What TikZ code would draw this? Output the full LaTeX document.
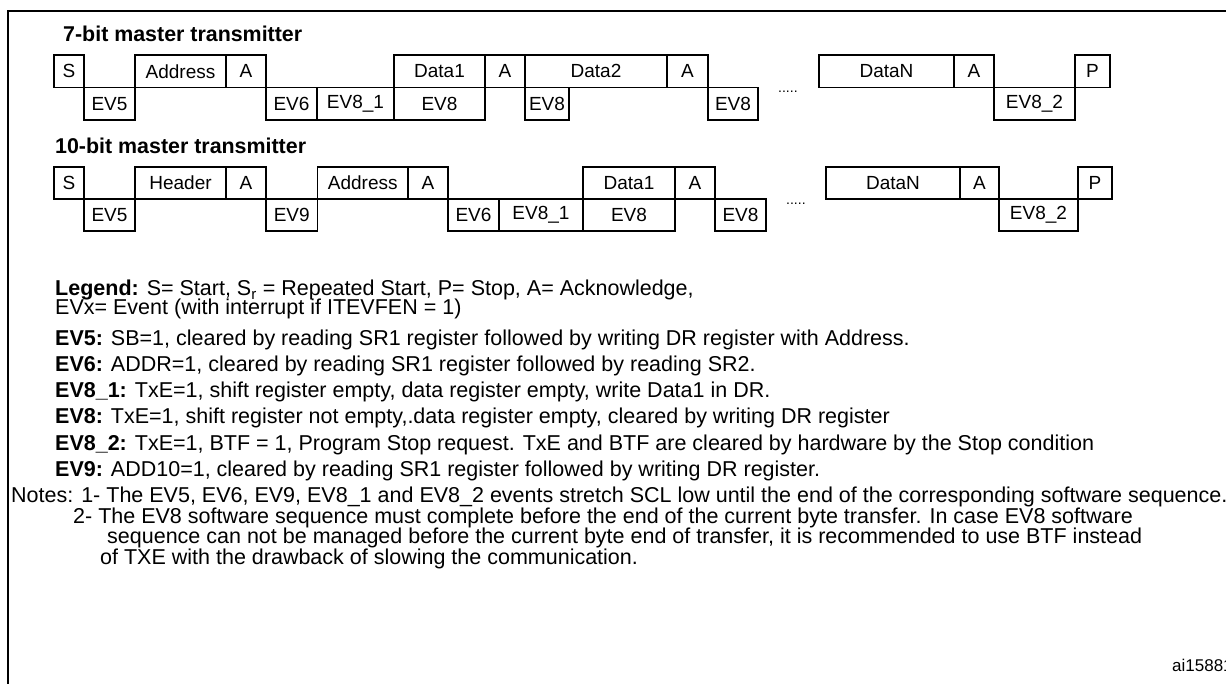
\documentclass[tikz,border=0pt]{standalone}
\usepackage{fontspec}
\setmainfont{Liberation Sans}
\newcommand\cell[6]{%
  \pgfmathsetmacro\cw{#3-#2}\pgfmathsetmacro\ch{#5-#4}%
  \node[cellbox, minimum width=\cw pt, minimum height=\ch pt, anchor=north west] (#1) at (#2,#4) {#6};}
\begin{document}
\begin{tikzpicture}[x=1pt,y=-1pt,
  cellbox/.style={draw, line width=1.7pt, inner sep=0pt, outer sep=0pt, font=\fontsize{19}{22}\selectfont},
  head/.style={anchor=base west, inner sep=0pt, font=\fontsize{21.4}{25}\selectfont\bfseries},
  txt/.style={anchor=base west, inner sep=0pt, font=\fontsize{21.5}{25}\selectfont},
  dots/.style={anchor=base west, inner sep=0pt, font=\fontsize{14}{16}\selectfont}]
\useasboundingbox (0,0) rectangle (1226,684);
% frame
\draw[line width=2.5pt] (8,700) -- (8,11) -- (1240,11);
% headings
\node[head] (h7) at (63,42) {7-bit master transmitter};
\node[head] (h10) at (55,154) {10-bit master transmitter};
% row 1
\cell{a1}{54}{84}{55}{87.5}{S}
\cell{a2}{84}{135}{87.5}{120}{EV5}
\cell{a3}{135}{226}{55}{87.5}{Address}
\cell{a4}{226}{266}{55}{87.5}{A}
\cell{a5}{266}{317}{87.5}{120}{EV6}
\cell{a6}{317}{394}{87.5}{120}{EV8\_1}
\cell{a7}{394}{485}{55}{87.5}{Data1}
\cell{a8}{394}{485}{87.5}{120}{EV8}
\cell{a9}{485}{525}{55}{87.5}{A}
\cell{a10}{525}{569}{87.5}{120}{EV8}
\cell{a11}{525}{667}{55}{87.5}{Data2}
\cell{a12}{667}{708}{55}{87.5}{A}
\cell{a13}{708}{758}{87.5}{120}{EV8}
\node[dots] (d1) at (778,93) {.....};
\cell{a14}{819}{954}{55}{87.5}{DataN}
\cell{a15}{954}{994}{55}{87.5}{A}
\cell{a16}{994}{1075}{87.5}{120}{EV8\_2}
\cell{a17}{1075}{1110}{55}{87.5}{P}
% row 2
\cell{b1}{54}{84}{167}{199}{S}
\cell{b2}{84}{135}{199}{231}{EV5}
\cell{b3}{135}{226}{167}{199}{Header}
\cell{b4}{226}{266}{167}{199}{A}
\cell{b5}{266}{317.5}{199}{231}{EV9}
\cell{b6}{317.5}{408}{167}{199}{Address}
\cell{b7}{408}{448}{167}{199}{A}
\cell{b8}{448}{499}{199}{231}{EV6}
\cell{b9}{499}{583}{199}{231}{EV8\_1}
\cell{b10}{583}{675}{167}{199}{Data1}
\cell{b11}{583}{675}{199}{231}{EV8}
\cell{b12}{675}{715}{167}{199}{A}
\cell{b13}{715}{766}{199}{231}{EV8}
\node[dots] (d2) at (786,205) {.....};
\cell{b14}{826}{960}{167}{199}{DataN}
\cell{b15}{960}{999}{167}{199}{A}
\cell{b16}{999}{1078}{199}{231}{EV8\_2}
\cell{b17}{1078}{1112}{167}{199}{P}
% legend
\node[txt] (lg1) at (55,296) {\textbf{Legend:} S= Start, S\textsubscript{r} = Repeated Start, P= Stop, A= Acknowledge,};
\node[txt] (lg2) at (55,315) {EVx= Event (with interrupt if ITEVFEN = 1)};
% events
\node[txt] (e1) at (55,346) {\textbf{EV5:} SB=1, cleared by reading SR1 register followed by writing DR register with Address.};
\node[txt] (e2) at (55,372) {\textbf{EV6:} ADDR=1, cleared by reading SR1 register followed by reading SR2.};
\node[txt] (e3) at (55,398) {\textbf{EV8\_1:} TxE=1, shift register empty, data register empty, write Data1 in DR.};
\node[txt] (e4) at (55,424) {\textbf{EV8:} TxE=1, shift register not empty,.data register empty, cleared by writing DR register};
\node[txt] (e5) at (55,450) {\textbf{EV8\_2:} TxE=1, BTF = 1, Program Stop request. TxE and BTF are cleared by hardware by the Stop condition};
\node[txt] (e6) at (55,476) {\textbf{EV9:} ADD10=1, cleared by reading SR1 register followed by writing DR register.};
% notes
\node[txt] (n1) at (11,502) {Notes: 1- The EV5, EV6, EV9, EV8\_1 and EV8\_2 events stretch SCL low until the end of the corresponding software sequence.};
\node[txt] (n2) at (73,523) {2- The EV8 software sequence must complete before the end of the current byte transfer. In case EV8 software};
\node[txt] (n3) at (107,543) {sequence can not be managed before the current byte end of transfer, it is recommended to use BTF instead};
\node[txt] (n4) at (100,564) {of TXE with the drawback of slowing the communication.};
\node[anchor=base west, inner sep=0pt, font=\fontsize{17}{20}\selectfont] (id) at (1172,671) {ai15881};
\end{tikzpicture}
\end{document}
